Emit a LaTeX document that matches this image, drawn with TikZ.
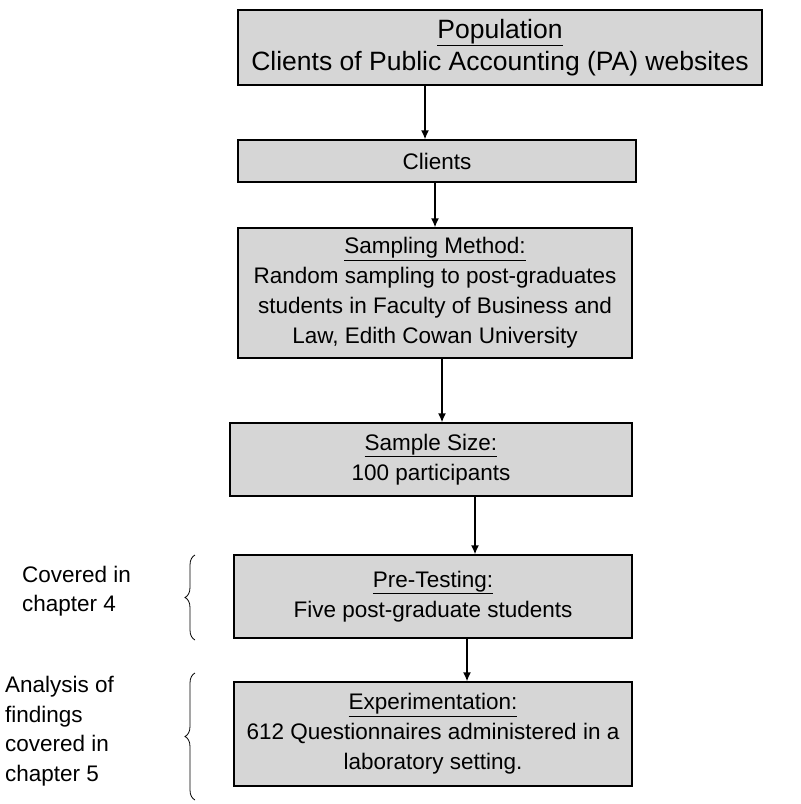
\documentclass[tikz,border=0pt]{standalone}
\usepackage{fontspec}
\setmainfont{Liberation Sans}
\usetikzlibrary{arrows.meta,decorations.pathreplacing}
\definecolor{boxgray}{RGB}{214,214,214}
\begin{document}
\begin{tikzpicture}[x=1pt,y=-1pt,
  stagebox/.style={draw=black, line width=1.1pt, fill=boxgray, align=center,
    inner sep=0pt, font=\fontsize{22.5}{30}\selectfont},
  flowarrow/.style={line width=2pt, -{Latex[length=9pt,width=8pt]}},
  sidebrace/.style={decorate, decoration={brace, amplitude=10pt}, line width=0.8pt},
  sidenote/.style={align=left, anchor=west, inner sep=0pt,
    font=\fontsize{22.5}{29.5}\selectfont}]
\useasboundingbox (0,0) rectangle (801,804);

% stages of the study
\node[stagebox, minimum width=524pt, minimum height=75pt,
  font=\fontsize{26.5}{32}\selectfont] (pop) at (500,47.5)
  {\underline{Population}\\Clients of Public Accounting (PA) websites};
\node[stagebox, minimum width=398pt, minimum height=42pt] (cli) at (437,161) {Clients};
\node[stagebox, minimum width=394pt, minimum height=130pt] (samp) at (435,293)
  {\underline{Sampling Method:}\\Random sampling to post-graduates\\students in Faculty of Business and\\Law, Edith Cowan University};
\node[stagebox, minimum width=402pt, minimum height=73pt] (size) at (431,459.5)
  {\underline{Sample Size:}\\100 participants};
\node[stagebox, minimum width=398pt, minimum height=83pt] (pre) at (433,596.5)
  {\underline{Pre-Testing:}\\Five post-graduate students};
\node[stagebox, minimum width=398pt, minimum height=104pt] (exp) at (433,734)
  {\underline{Experimentation:}\\612 Questionnaires administered in a\\laboratory setting.};

% arrows between stages
\draw[flowarrow] ([xshift=-75pt]pop.south) -- ([xshift=-12pt]cli.north);
\draw[flowarrow] ([xshift=-2pt]cli.south) -- ([xshift=0pt]samp.north);
\draw[flowarrow] ([xshift=7pt]samp.south) -- ([xshift=11pt]size.north);
\draw[flowarrow] ([xshift=44pt]size.south) -- ([xshift=42pt]pre.north);
\draw[flowarrow] ([xshift=34pt]pre.south) -- ([xshift=34pt]exp.north);

% chapter notes with braces
\coordinate (b1top) at (195,555);
\coordinate (b1bot) at (195,640);
\coordinate (b2top) at (195,673);
\coordinate (b2bot) at (195,800);
\draw[sidebrace] (b1bot) -- (b1top);
\draw[sidebrace] (b2bot) -- (b2top);
\node[sidenote] (ch4) at (22,591) {Covered in\\chapter 4};
\node[sidenote] (ch5) at (5,731) {Analysis of\\findings\\covered in\\chapter 5};
\end{tikzpicture}
\end{document}
